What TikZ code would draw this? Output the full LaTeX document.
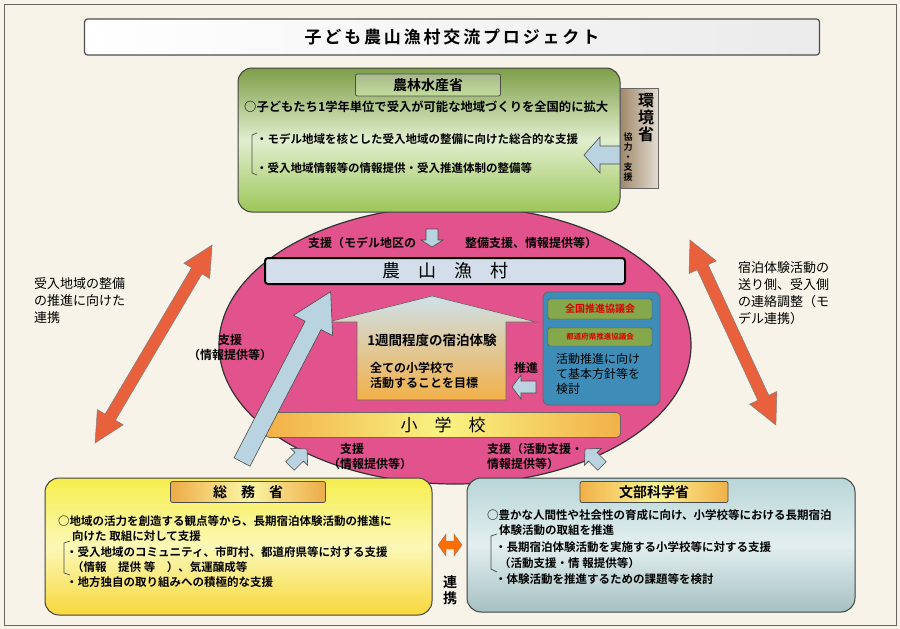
\documentclass[tikz,border=0pt]{standalone}
\usepackage{fontspec}
\setmainfont{Noto Sans CJK JP}[BoldFont={Noto Sans CJK JP Bold}]
\usetikzlibrary{arrows.meta}
\definecolor{bg}{HTML}{F7F3E8}
\definecolor{pinkc}{HTML}{E2528C}
\definecolor{greenc}{HTML}{9CC65A}
\definecolor{yellowc}{HTML}{F6EE4C}
\definecolor{bluec}{HTML}{B8D6D8}
\definecolor{barblue}{HTML}{D3DEEA}
\definecolor{arrowblue}{HTML}{B9D4E0}
\definecolor{redarr}{HTML}{E8603C}
\definecolor{brownc}{HTML}{A08868}
\definecolor{tealc}{HTML}{3D8DB8}
\definecolor{orangec}{HTML}{F2B048}
\tikzset{
  txt/.style={font=\bfseries\fontsize{11.5}{13}\selectfont, anchor=west, inner sep=0pt},
  lbl/.style={font=\bfseries\fontsize{12}{15}\selectfont, inner sep=0pt, align=center},
  hdr/.style={draw=black!70, line width=0.8pt, rounded corners=2pt, font=\bfseries\fontsize{14}{15}\selectfont},
  blarrow/.style={draw=black!70, fill=arrowblue, line width=0.6pt},
  dblar/.style={draw=black!50, line width=0.5pt, fill=redarr},
  pics/blockarrow/.style args={#1/#2/#3/#4}{code={
    \path[blarrow] (0,-#2) -- ({#1-#4},-#2) -- ({#1-#4},-#3) -- (#1,0) -- ({#1-#4},#3) -- ({#1-#4},#2) -- (0,#2) -- cycle;
  }},
}
\begin{document}
\begin{tikzpicture}[x=1pt,y=-1pt]
\useasboundingbox (0,0) rectangle (900,629);
\fill[bg] (0,0) rectangle (900,629);
\draw[black!60, line width=0.8pt] (4,4) rectangle (896,625);
% title
\node[draw=black!70, line width=1.2pt, rounded corners=3pt, left color=white, right color=black!8,
  minimum width=735pt, minimum height=36pt, font=\bfseries\fontsize{17}{18}\selectfont] (title) at (452,37) {子\,ど\,も\,農\,山\,漁\,村\,交\,流\,プ\,ロ\,ジ\,ェ\,ク\,ト};
% ellipse
\draw[black!80, line width=1.2pt, fill=pinkc] (455,345) ellipse [x radius=236, y radius=139];
% green box
\path[shade, top color=greenc!80!black, bottom color=greenc, middle color=white!70!greenc, rounded corners=14pt] (238,68) rectangle (620,212);
\draw[black!75, line width=1pt, rounded corners=14pt] (238,68) rectangle (620,212);
\node[hdr, top color=greenc!70!black!60, bottom color=greenc!60, minimum width=145pt, minimum height=22pt] (maff) at (428,85) {農林水産省};
\node[txt, font=\bfseries\fontsize{12.3}{14}\selectfont] (m1) at (244,107) {○子どもたち1学年単位で受入が可能な地域づくりを全国的に拡大};
\node[txt] (m2) at (256,139) {・モデル地域を核とした受入地域の整備に向けた総合的な支援};
\node[txt] (m3) at (256,168) {・受入地域情報等の情報提供・受入推進体制の整備等};
\draw[black!70, line width=0.7pt] (257,133) -- (252,135) -- (252,173) -- (257,175);
% environment ministry
\path[left color=brownc, right color=brownc!30] (620,88) rectangle (658,188);
\draw[black!60, line width=0.8pt] (620,88) rectangle (658,188);
\node[lbl, font=\bfseries\fontsize{16}{17}\selectfont, align=center] (env) at (646,118) {環\\境\\省};
\node[lbl, font=\bfseries\fontsize{9}{10}\selectfont, align=center] (coop) at (628,157) {協\\力\\・\\支\\援};
\pic[rotate=180] at (620,155) {blockarrow={36/9/18/16}};
% top of ellipse labels
\pic[rotate=-90] at (432,229) {blockarrow={18/6/11/7}};
\node[lbl, anchor=west] (s1) at (308,243) {支援（モデル地区の};
\node[lbl, anchor=west] (s2) at (465,243) {整備支援、情報提供等）};
% village bar
\node[draw=black, line width=2pt, rounded corners=3pt, fill=barblue, minimum width=360pt, minimum height=26pt, font=\fontsize{18}{19}\selectfont] (village) at (445,271) {農\quad 山\quad 漁\quad 村};
% house arrow
\path[draw=black!60, line width=0.6pt, top color=arrowblue!70, bottom color=orangec] (357,400) -- (357,322) -- (328,322) -- (432,296) -- (536,322) -- (506,322) -- (506,400) -- cycle;
\node[lbl, font=\bfseries\fontsize{13.5}{14}\selectfont] (stay) at (432,340) {1週間程度の宿泊体験};
\node[lbl, align=left] (goal) at (424,375) {全ての小学校で\\活動することを目標};
% council box
\draw[black!60, line width=0.8pt, fill=tealc, rounded corners=6pt] (543,292) rectangle (660,405);
\node[draw=black!70, fill=greenc!85!black, rounded corners=2pt, minimum width=104pt, minimum height=20pt, text=red!85!black, font=\bfseries\fontsize{10}{12}\selectfont] (nat) at (600,309) {全国推進協議会};
\node[draw=black!70, fill=greenc!85!black, rounded corners=2pt, minimum width=104pt, minimum height=18pt, text=red!85!black, font=\bfseries\fontsize{7.5}{9}\selectfont] (pref) at (600,337) {都道府県推進協議会};
\node[lbl, align=left, anchor=north west, font=\fontsize{12}{15}\selectfont] (basic) at (556,353) {活動推進に向け\\て基本方針等を\\検討};
\node[lbl] (promo) at (526,368) {推進};
\pic[rotate=180] at (536,387) {blockarrow={24/6/12/9}};
% school bar
\node[draw=black!60, line width=0.8pt, rounded corners=4pt, left color=orangec, right color=orangec, middle color=yellowc!70, minimum width=355pt, minimum height=25pt, font=\fontsize{17}{18}\selectfont] (school) at (443,425) {小\quad 学\quad 校};
% diagonal arrow
\pic[rotate=62.5] at (242,462) {blockarrow={192/9/22/38}};
\node[lbl] (supL) at (230,347) {支援\\（情報提供等）};
% small arrows bottom
\pic[rotate=45] at (290,466) {blockarrow={24/6/12/11}};
\pic[rotate=135] at (602,466) {blockarrow={24/6/12/11}};
\node[lbl, align=left] (sup1) at (370,456) {\hspace{1em}支援\\（情報提供等）};
\node[lbl, align=left] (sup2) at (535,456) {支援（活動支援・\\情報提供等）};
% red double arrows
\begin{scope}[shift={(95,443)}, rotate=59.4]
\path[dblar] (0,0) -- (30,-15) -- (30,-6) -- (200,-6) -- (200,-15) -- (230,0) -- (200,15) -- (200,6) -- (30,6) -- (30,15) -- cycle;
\end{scope}
\begin{scope}[shift={(690,240)}, rotate=-65.1]
\path[dblar] (0,0) -- (30,-15) -- (30,-6) -- (174,-6) -- (174,-15) -- (204,0) -- (174,15) -- (174,6) -- (30,6) -- (30,15) -- cycle;
\end{scope}
\node[lbl, align=left, anchor=north west, font=\fontsize{13}{17}\selectfont] (ltxt) at (34,277) {受入地域の整備\\の推進に向けた\\連携};
\node[lbl, align=left, anchor=north west, font=\fontsize{13}{17}\selectfont] (rtxt) at (738,261) {宿泊体験活動の\\送り側、受入側\\の連絡調整（モ\\デル連携）};
% yellow box
\path[shade, top color=yellowc, bottom color=yellowc!80!orange, middle color=yellowc!40!white, rounded corners=14pt] (45,478) rectangle (432,615);
\draw[black!75, line width=1pt, rounded corners=14pt] (45,478) rectangle (432,615);
\node[hdr, left color=orangec!90!brown, right color=orangec!90!brown, middle color=yellowc!50!white, minimum width=155pt, minimum height=21pt] (soumu) at (248,492) {総\quad 務\quad 省};
\node[txt] (a1) at (58,521) {○地域の活力を創造する観点等から、長期宿泊体験活動の推進に};
\node[txt] (a2) at (72,536) {向けた 取組に対して支援};
\node[txt] (a3) at (66,552) {・受入地域のコミュニティ、市町村、都道府県等に対する支援};
\node[txt] (a4) at (72,567) {（情報\quad 提供 等\quad ）、気運醸成等};
\node[txt] (a5) at (66,582) {・地方独自の取り組みへの積極的な支援};
\draw[black!70, line width=0.7pt] (70,541) -- (64,543) -- (64,573) -- (70,575);
% blue box
\path[shade, top color=bluec, bottom color=bluec!90!black, middle color=white!60!bluec, rounded corners=14pt] (467,478) rectangle (855,612);
\draw[black!75, line width=1pt, rounded corners=14pt] (467,478) rectangle (855,612);
\node[hdr, left color=orangec, right color=orangec, middle color=yellowc!60!white, minimum width=148pt, minimum height=21pt] (mext) at (654,492) {文部科学省};
\node[txt] (b1) at (487,515) {○豊かな人間性や社会性の育成に向け、小学校等における長期宿泊};
\node[txt] (b2) at (499,530) {体験活動の取組を推進};
\node[txt] (b3) at (495,547) {・長期宿泊体験活動を実施する小学校等に対する支援};
\node[txt] (b4) at (499,563) {（活動支援・情 報提供等）};
\node[txt] (b5) at (495,579) {・体験活動を推進するための課題等を検討};
\draw[black!70, line width=0.7pt] (497,534) -- (491,536) -- (491,569) -- (497,572);
% renkei
\path[draw=black!50, line width=0.4pt, fill=orange!85!red] (438,545) -- (446,534) -- (446,541) -- (454,541) -- (454,534) -- (462,545) -- (454,556) -- (454,549) -- (446,549) -- (446,556) -- cycle;
\node[lbl, font=\bfseries\fontsize{14}{16}\selectfont] (renkei) at (450,590) {連\\携};
\end{tikzpicture}
\end{document}
